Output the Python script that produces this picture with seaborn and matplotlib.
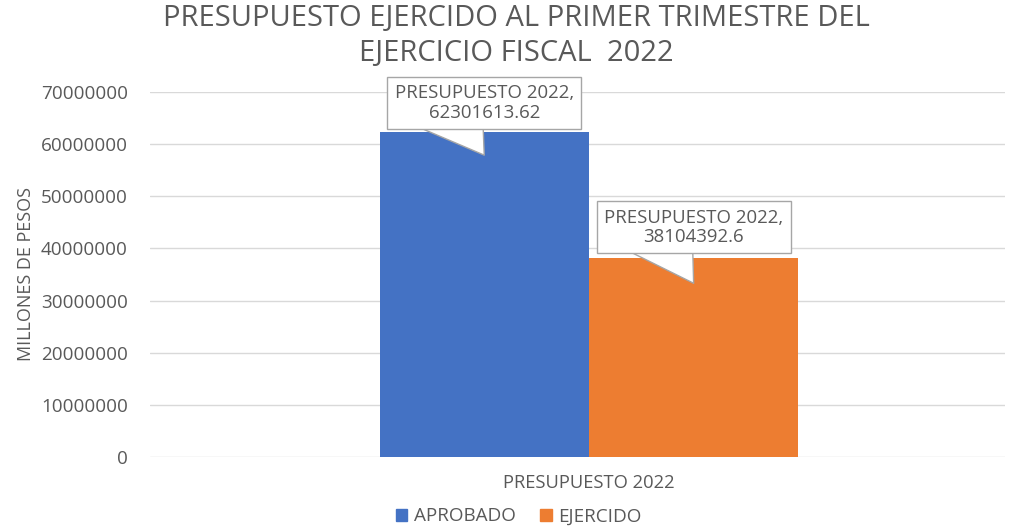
import matplotlib.pyplot as plt
import seaborn as sns
import pandas as pd
from matplotlib.ticker import FuncFormatter, MultipleLocator
from matplotlib.transforms import offset_copy

# datos del grafico
categorias = ["PRESUPUESTO 2022"]
series = ["APROBADO", "EJERCIDO"]
valores = [62301613.62, 38104392.6]
etiquetas = ["PRESUPUESTO 2022,\n62301613.62", "PRESUPUESTO 2022,\n38104392.6"]

colores = ["#4472C4", "#ED7D31"]
gris = "#595959"

df = pd.DataFrame({
    "categoria": categorias * len(series),
    "serie": series,
    "monto": valores,
})

sns.set_style("white")
plt.rcParams["font.family"] = ["Open Sans", "DejaVu Sans"]

fig = plt.figure(figsize=(10.17, 5.27), dpi=100)
ax = fig.add_axes([0.1475, 0.133, 0.8405, 0.6924])

sns.barplot(data=df, x="categoria", y="monto", hue="serie", palette=colores,
            width=0.49, saturation=1, linewidth=0, ax=ax)

ax.set_xlim(-0.5135, 0.4865)
ax.set_ylim(0, 70000000)
ax.yaxis.set_major_locator(MultipleLocator(10000000))
ax.yaxis.set_major_formatter(FuncFormatter(lambda v, p: f"{int(v)}"))
ax.grid(axis="y", color="#D9D9D9", linewidth=1)
ax.set_axisbelow(True)
for s in ax.spines.values():
    s.set_visible(False)
ax.tick_params(axis="y", length=0, pad=16, labelsize=13.6, labelcolor=gris)
ax.tick_params(axis="x", length=0, pad=12, labelsize=13.2, labelcolor=gris)
ax.set_xlabel("")
ax.set_ylabel("MILLONES DE PESOS", fontsize=13, color=gris)
ax.yaxis.set_label_coords(-0.135, 0.5)

# globos de datos (px arriba / abajo del tope de la barra)
ofs = [(29, -23), (31, -25)]
for cont, txt, (up, down) in zip(ax.containers, etiquetas, ofs):
    bar = cont[0]
    x = bar.get_x() + bar.get_width() / 2
    h = bar.get_height()
    tip = offset_copy(ax.transData, fig=fig, x=0, y=down * 0.72, units="points")
    box = offset_copy(ax.transData, fig=fig, x=0, y=up * 0.72, units="points")
    ax.annotate(txt, xy=(x, h), xycoords=tip, xytext=(x, h), textcoords=box,
                ha="center", va="center", fontsize=13.4, color=gris, linespacing=1.1,
                bbox=dict(boxstyle="square,pad=0.4", fc="white", ec="#A6A6A6", lw=1),
                arrowprops=dict(arrowstyle="wedge,tail_width=4.3", fc="white", ec="#A6A6A6", lw=1,
                                shrinkA=0, shrinkB=0, relpos=(0.3, 0.5), patchA=None),
                annotation_clip=False)

ax.legend_.remove()
handles = [plt.Rectangle((0, 0), 1, 1, color=c) for c in colores]
fig.legend(handles, series, loc="center", bbox_to_anchor=(0.51, 0.02), ncol=2, frameon=False,
           handlelength=0.6, handleheight=0.6, handletextpad=0.35, columnspacing=1.3,
           prop={"size": 13.6}, labelcolor=gris)

fig.text(0.508, 0.964, "PRESUPUESTO EJERCIDO AL PRIMER TRIMESTRE DEL", ha="center", va="center",
         fontsize=21, color=gris)
fig.text(0.508, 0.898, "EJERCICIO FISCAL  2022", ha="center", va="center", fontsize=21, color=gris)

plt.savefig("out.png", dpi=100)
